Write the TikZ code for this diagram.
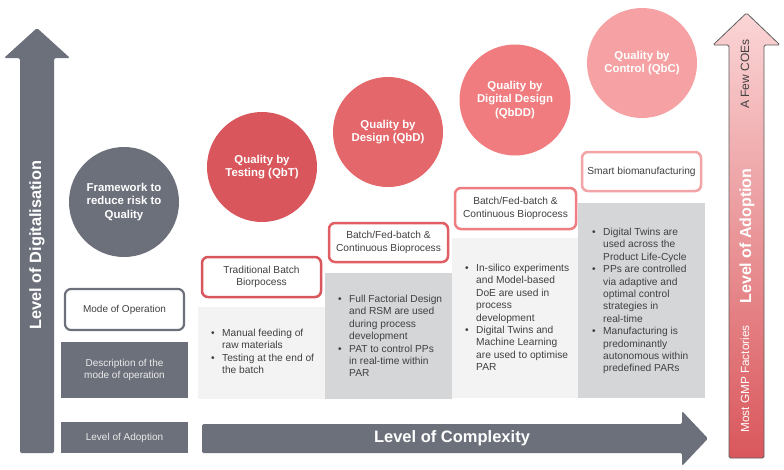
\documentclass[tikz,border=0pt]{standalone}
\usepackage{fontspec}
\setmainfont{Liberation Sans}
\usetikzlibrary{shapes.geometric}
\definecolor{dgray}{HTML}{6C707A}
\definecolor{plight}{HTML}{F3F3F3}
\definecolor{pdark}{HTML}{D5D6D8}
\definecolor{txt}{HTML}{404040}
\definecolor{cqbt}{HTML}{D9575C}
\definecolor{cqbd}{HTML}{E4676B}
\definecolor{cqbdd}{HTML}{F07C7F}
\definecolor{cqbc}{HTML}{F6A2A4}
\definecolor{bqbt}{HTML}{D9565C}
\definecolor{bqbd}{HTML}{E05E64}
\definecolor{bqbdd}{HTML}{EE7E82}
\definecolor{bqbc}{HTML}{F2A4A6}
\newcommand{\bi}{\makebox[11pt][l]{\textbullet}}
\newcommand{\ci}{\hspace*{11pt}}
\tikzset{
  bigcirc/.style={circle, minimum size=110pt, inner sep=0pt, text=white, align=center,
    font=\fontsize{11.4}{13.8}\selectfont\bfseries},
  modebox/.style={draw, line width=2.5pt, rounded corners=6pt, fill=white, text=txt,
    align=center, font=\fontsize{10.2}{12.4}\selectfont, inner sep=0pt},
  panel/.style={inner sep=0pt, draw=none},
  bul/.style={anchor=north west, inner sep=0pt, align=left, text=txt,
    font=\fontsize{10.2}{12.4}\selectfont},
  darkbox/.style={fill=dgray, inner sep=0pt, text=white!92!black, align=center,
    font=\fontsize{10}{12.8}\selectfont},
  bigtxt/.style={text=white, font=\fontsize{16.3}{19}\selectfont\bfseries, inner sep=0pt}
}
\begin{document}
\begin{tikzpicture}[x=1pt,y=-1pt]
\useasboundingbox[fill=white] (0,0) rectangle (784,469);

% panels
\fill[plight] (198,307) rectangle (325,399);
\fill[pdark] (325,273) rectangle (452,399);
\fill[plight] (452,238) rectangle (578,398);
\fill[pdark] (578,203) rectangle (705,398);

% left arrow
\fill[dgray, rounded corners=1.5pt] (20,453) -- (20,58) -- (4,58) -- (37,28) -- (70,58) -- (54,58) -- (54,453) -- cycle;
\node[bigtxt, rotate=90] (dig) at (37,245) {Level of Digitalisation};

% complexity arrow
\fill[dgray, rounded corners=1.5pt] (202,424) -- (682,424) -- (682,411) -- (708,438.5) -- (682,466) -- (682,453) -- (202,453) -- cycle;
\node[bigtxt, font=\fontsize{16.5}{19}\selectfont\bfseries] (cpx) at (452,438.5) {Level of Complexity};

% adoption arrow
\shade[top color=cqbc!45!white, middle color=cqbdd!90!white, bottom color=cqbt, draw=txt!85, line width=0.8pt, rounded corners=1.5pt]
  (729,458) -- (729,45) -- (713,45) -- (746.5,13) -- (780,45) -- (764,45) -- (764,458) -- cycle;
\node[rotate=90, text=txt, font=\fontsize{12}{14}\selectfont, inner sep=0pt] (few) at (745,74) {A Few COEs};
\node[bigtxt, rotate=90, font=\fontsize{16}{19}\selectfont\bfseries] (ado) at (747,236) {Level of Adoption};
\node[rotate=90, text=white, font=\fontsize{11.8}{14}\selectfont, inner sep=0pt] (gmp) at (745,379) {Most GMP Factories};

% circles
\node[bigcirc, fill=dgray] (frm) at (124,202) {Framework to\\reduce risk to\\Quality};
\node[bigcirc, fill=cqbt] (qbt) at (262,167) {Quality by\\Testing (QbT)};
\node[bigcirc, fill=cqbd] (qbd) at (388,132) {Quality by\\Design (QbD)};
\node[bigcirc, fill=cqbdd, minimum size=111pt] (qbdd) at (515,100) {Quality by\\Digital Design\\(QbDD)};
\node[bigcirc, fill=cqbc] (qbc) at (642,63) {Quality by\\Control (QbC)};

% left legend boxes
\node[modebox, draw=dgray, line width=2.2pt, minimum width=119pt, minimum height=41pt, font=\fontsize{10}{12}\selectfont] (mode) at (124.5,309.5) {Mode of Operation};
\node[darkbox, minimum width=127pt, minimum height=56pt] (desc) at (124.5,370) {Description of the\\mode of operation};
\node[darkbox, minimum width=127pt, minimum height=31pt] (lad) at (124.5,437.5) {Level of Adoption};

% mode boxes
\node[modebox, draw=bqbt, minimum width=119pt, minimum height=40pt] (m1) at (261.5,277) {Traditional Batch\\Biorpocess};
\node[modebox, draw=bqbd, minimum width=119pt, minimum height=39pt] (m2) at (388.5,242.5) {Batch/Fed-batch \&\\Continuous Bioprocess};
\node[modebox, draw=bqbdd, minimum width=121pt, minimum height=41pt] (m3) at (515.5,208.5) {Batch/Fed-batch \&\\Continuous Bioprocess};
\node[modebox, draw=bqbc, minimum width=119pt, minimum height=39pt] (m4) at (641.5,171.5) {Smart biomanufacturing};

% bullets
\node[bul] (b1) at (211,329) {\bi Manual feeding of\\\ci raw materials\\\bi Testing at the end of\\\ci the batch};
\node[bul] (b2) at (338,295) {\bi Full Factorial Design\\\ci and RSM are used\\\ci during process\\\ci development\\\bi PAT to control PPs\\\ci in real-time within\\\ci PAR};
\node[bul] (b3) at (465,264) {\bi In-silico experiments\\\ci and Model-based\\\ci DoE are used in\\\ci process\\\ci development\\\bi Digital Twins and\\\ci Machine Learning\\\ci are used to optimise\\\ci PAR};
\node[bul] (b4) at (592,228) {\bi Digital Twins are\\\ci used across the\\\ci Product Life-Cycle\\\bi PPs are controlled\\\ci via adaptive and\\\ci optimal control\\\ci strategies in\\\ci real-time\\\bi Manufacturing is\\\ci predominantly\\\ci autonomous within\\\ci predefined PARs};
\end{tikzpicture}
\end{document}
